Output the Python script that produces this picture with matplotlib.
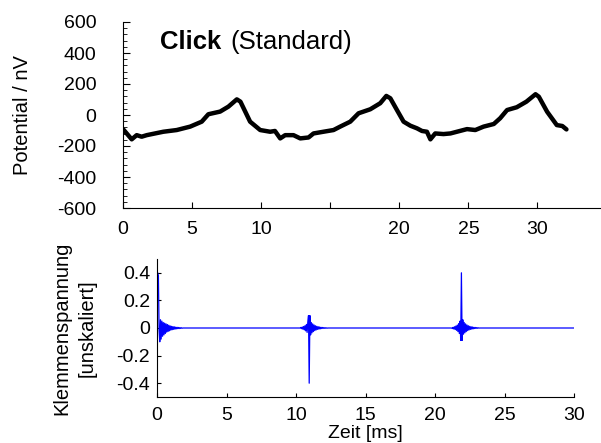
import matplotlib
matplotlib.use("Agg")
import numpy as np
import matplotlib.pyplot as plt
from matplotlib.ticker import MultipleLocator

plt.rcParams["font.family"] = ["Liberation Sans", "DejaVu Sans"]
plt.rcParams["axes.unicode_minus"] = False

# --- top panel: averaged potential (nV) vs. time (ms) ---
erp_t = [0.02, 0.63, 0.99, 1.35, 1.72, 2.92, 3.89, 4.86, 5.7, 6.18, 7.03, 7.63,
         8.24, 8.5, 9.2, 9.93, 10.65, 11.0, 11.38, 11.74, 12.34, 12.83, 13.43,
         13.79, 14.51, 15.24, 15.72, 16.45, 17.05, 17.9, 18.62, 19.06, 19.35,
         19.83, 20.31, 20.8, 21.28, 21.64, 22.0, 22.25, 22.6, 23.2, 23.7, 24.9,
         25.5, 26.1, 26.84, 27.3, 27.8, 28.5, 29.2, 29.86, 30.1, 30.7, 31.4,
         31.8, 32.1]
erp_v = [-93, -157, -130, -140, -130, -108, -97, -75, -43, 5, 22, 54,
         101, 86, -43, -97, -108, -103, -151, -130, -130, -151, -145,
         -119, -108, -97, -75, -43, 11, 37, 76, 123, 108,
         32, -43, -69, -86, -103, -108, -157, -119, -123, -119, -91,
         -97, -75, -58, -21, 32, 50, 86, 134, 118, 21, -65,
         -71, -93]

top_xticks = [0, 5, 10, 15, 20, 25, 30]
top_xlabels = ["0", "5", "10", "", "20", "25", "30"]
top_yticks = [-600, -400, -200, 0, 200, 400, 600]

# --- bottom panel: click stimulus (unscaled), sampled every 0.05 ms ---
DT = 0.05
click1_t0 = 0.0
click1 = [0.40, 0.40, 0.38, -0.02, -0.10, 0.06, -0.08, 0.05, -0.06, 0.04,
          -0.05, 0.035, -0.04, 0.03, -0.03, 0.025, -0.025, 0.02, -0.02, 0.015,
          -0.015, 0.012, -0.012, 0.01, -0.01, 0.008, -0.008, 0.006, -0.006,
          0.005, -0.005, 0.004, -0.004, 0.003, -0.003, 0.002, -0.002, 0.0]
click2_t0 = 10.30
click2 = [0.0, 0.004, -0.005, 0.007, -0.009, 0.011, -0.014, 0.017, -0.021,
          0.026, -0.032, 0.04, 0.09, -0.40, 0.09, -0.05, 0.04, -0.035, 0.03,
          -0.026, 0.022, -0.019, 0.016, -0.014, 0.012, -0.010, 0.009, -0.008,
          0.007, -0.006, 0.005, -0.004, 0.004, -0.003, 0.003, -0.002, 0.002,
          -0.002, 0.001, -0.001, 0.0]
click3_t0 = 21.20
click3 = [0.0, -0.004, 0.005, -0.007, 0.009, -0.011, 0.014, -0.017, 0.021,
          -0.026, 0.032, -0.04, 0.05, -0.09, 0.40, -0.09, 0.06, -0.045, 0.04,
          -0.035, 0.03, -0.026, 0.022, -0.019, 0.016, -0.014, 0.012, -0.010,
          0.009, -0.008, 0.007, -0.006, 0.005, -0.004, 0.004, -0.003, 0.003,
          -0.002, 0.002, -0.001, 0.0]
sig_end = 30.1

bot_xticks = [0, 5, 10, 15, 20, 25, 30]
bot_yticks = [-0.4, -0.2, 0, 0.2, 0.4]
bot_ylabels = ["-0.4", "-0.2", "0", "0.2", "0.4"]

FS = 14

fig = plt.figure(figsize=(6.01, 4.43), dpi=100)

# top panel
ax1 = fig.add_axes([123 / 601, 1 - 208 / 443, 478 / 601, 186 / 443])
ax1.plot(erp_t, erp_v, color="black", lw=3.2, solid_joinstyle="round",
         solid_capstyle="round")
ax1.set_xlim(0, 34.6)
ax1.set_ylim(-600, 600)
ax1.set_xticks(top_xticks)
ax1.set_xticklabels(top_xlabels)
ax1.set_yticks(top_yticks)
ax1.set_yticklabels([str(v) for v in top_yticks])
ax1.yaxis.set_minor_locator(MultipleLocator(40))
ax1.tick_params(axis="both", which="both", direction="in", labelsize=FS)
ax1.tick_params(axis="y", which="major", length=5, pad=19)
ax1.tick_params(axis="y", which="minor", length=3)
ax1.tick_params(axis="x", which="major", length=4, pad=9)
for s in ("top", "right"):
    ax1.spines[s].set_visible(False)
ax1.set_ylabel("Potential / nV", fontsize=FS + 0.5)
ax1.yaxis.set_label_coords(-0.19, 0.5)

t1 = ax1.text(0.077, 0.89, "Click", transform=ax1.transAxes, fontsize=18.5,
              fontweight="bold", va="center", ha="left")
ax1.annotate("(Standard)", xy=(1, 0.5), xycoords=t1, xytext=(7, 0),
             textcoords="offset points", va="center", ha="left",
             fontsize=18.5)

# bottom panel
sig_t = []
sig_v = []
for t0, vals in ((click1_t0, click1), (click2_t0, click2), (click3_t0, click3)):
    sig_t.extend(t0 + DT * np.arange(len(vals)))
    sig_v.extend(vals)
sig_t.append(sig_end)
sig_v.append(0.0)

ax2 = fig.add_axes([157 / 601, 1 - 397 / 443, 417 / 601, 138 / 443])
ax2.plot(sig_t, sig_v, color="#0000ff", lw=0.9)
ax2.set_xlim(0, 30)
ax2.set_ylim(-0.5, 0.5)
ax2.set_xticks(bot_xticks)
ax2.set_yticks(bot_yticks)
ax2.set_yticklabels(bot_ylabels)
ax2.tick_params(axis="both", direction="in", length=3, labelsize=FS)
ax2.tick_params(axis="x", pad=7)
ax2.tick_params(axis="y", pad=5)
for s in ("top", "right"):
    ax2.spines[s].set_visible(False)
ax2.set_ylabel("Klemmenspannung\n[unskaliert]", fontsize=FS + 0.5,
               linespacing=1.45)
ax2.yaxis.set_label_coords(-0.144, 0.5)
ax2.set_xlabel("Zeit [ms]", fontsize=FS)
ax2.xaxis.set_label_coords(0.5, -0.205)

fig.savefig("out.png", dpi=100)
